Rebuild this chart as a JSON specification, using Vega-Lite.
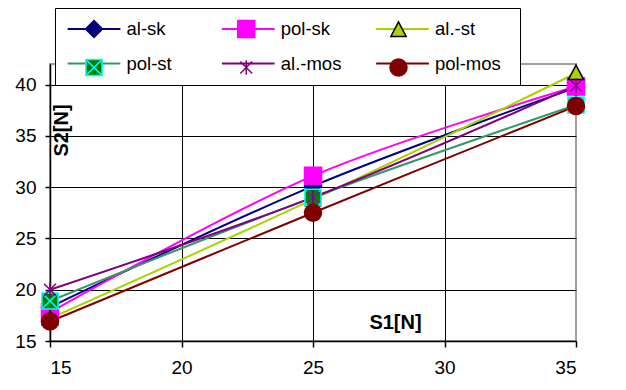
{
  "$schema": "https://vega.github.io/schema/vega-lite/v6.json",
  "width": 526,
  "height": 277,
  "autosize": {"type": "none"},
  "padding": {"left": 50, "top": 64, "right": 50, "bottom": 49},
  "background": "white",
  "config": {
    "view": {"stroke": "#a0a0a0", "strokeWidth": 2},
    "font": "Liberation Sans"
  },
  "data": {
    "values": [
      {"x": 15, "y": 18.3, "s": "al-sk", "m": "al-sk"},
      {"x": 25, "y": 30.1, "s": "al-sk", "m": "al-sk"},
      {"x": 35, "y": 39.7, "s": "al-sk", "m": "al-sk"},
      {"x": 15, "y": 17.8, "s": "pol-sk", "m": "pol-sk"},
      {"x": 25, "y": 31.1, "s": "pol-sk", "m": "pol-sk"},
      {"x": 35, "y": 39.8, "s": "pol-sk", "m": "pol-sk"},
      {"x": 15, "y": 17.2, "s": "al.-st", "m": "al.-st"},
      {"x": 25, "y": 28.8, "s": "al.-st", "m": "al.-st"},
      {"x": 35, "y": 41.1, "s": "al.-st", "m": "al.-st"},
      {"x": 15, "y": 18.9, "s": "pol-st", "m": "pol-st"},
      {"x": 25, "y": 29.0, "s": "pol-st", "m": "pol-st"},
      {"x": 35, "y": 38.0, "s": "pol-st", "m": "pol-st"},
      {"x": 15, "y": 20.0, "s": "al.-mos", "m": "al.-mos"},
      {"x": 25, "y": 29.0, "s": "al.-mos", "m": "al.-mos"},
      {"x": 35, "y": 39.9, "s": "al.-mos", "m": "al.-mos"},
      {"x": 15, "y": 16.9, "s": "pol-mos", "m": "pol-mos"},
      {"x": 25, "y": 27.5, "s": "pol-mos", "m": "pol-mos"},
      {"x": 35, "y": 37.9, "s": "pol-mos", "m": "pol-mos"}
    ]
  },
  "encoding": {
    "x": {
      "field": "x", "type": "quantitative",
      "scale": {"domain": [15, 35], "nice": false, "zero": false},
      "axis": {
        "values": [15, 20, 25, 30, 35],
        "grid": true,
        "gridColor": {"condition": {"test": "datum.value === 35", "value": "#a0a0a0"}, "value": "black"},
        "gridWidth": 1,
        "domainColor": "black", "domainWidth": 1.5,
        "tickColor": "black", "tickSize": 6, "tickWidth": 1.5,
        "labelFont": "Liberation Sans", "labelFontSize": 19, "labelColor": "black", "labelPadding": 11,
        "title": "S1[N]", "titleFont": "Liberation Sans", "titleFontSize": 20, "titleFontWeight": "bold", "titleColor": "black",
        "titleX": 345, "titleY": -19, "titleAlign": "center", "titleBaseline": "middle"
      }
    },
    "y": {
      "field": "y", "type": "quantitative",
      "scale": {"domain": [15, 42], "nice": false, "zero": false},
      "axis": {
        "values": [15, 20, 25, 30, 35, 40],
        "grid": true, "gridColor": "black", "gridWidth": 1,
        "domainColor": "black", "domainWidth": 1.5,
        "tickColor": "black", "tickSize": 5, "tickWidth": 1.5,
        "labelFont": "Liberation Sans", "labelFontSize": 19, "labelColor": "black", "labelPadding": 9,
        "title": "S2[N]", "titleFont": "Liberation Sans", "titleFontSize": 20, "titleFontWeight": "bold", "titleColor": "black",
        "titleX": 11, "titleY": 66, "titleAngle": 270, "titleAlign": "center", "titleBaseline": "middle"
      }
    }
  },
  "layer": [
    {
      "mark": {"type": "line", "strokeWidth": 2, "interpolate": "catmull-rom"},
      "encoding": {
        "color": {
          "field": "s", "type": "nominal",
          "sort": ["al-sk", "pol-sk", "al.-st", "pol-st", "al.-mos", "pol-mos"],
          "scale": {
            "range": ["#000080", "#FF00FF", "#A8D400", "#339966", "#800080", "#800000"]
          },
          "legend": {
            "orient": "none", "legendX": 5, "legendY": -56, "direction": "horizontal",
            "columns": 3, "gridAlign": "all", "columnPadding": 15.25, "rowPadding": 15.5,
            "padding": 11.5, "symbolSize": 289, "symbolOffset": 18, "labelOffset": 23,
            "symbolType": "M-3.45,0M11.9,0M-3.1,0H3.1", "symbolStrokeWidth": 2,
            "labelFont": "Liberation Sans", "labelFontSize": 18.5, "labelColor": "black",
            "title": null, "strokeColor": "black", "fillColor": "white"
          }
        }
      }
    },
    {
      "mark": {"type": "point", "filled": true, "size": 289, "opacity": 1, "strokeWidth": 1.5},
      "encoding": {
        "shape": {
          "field": "m", "type": "nominal",
          "scale": {
            "domain": ["al-sk", "pol-sk", "al.-st", "pol-st", "al.-mos", "pol-mos"],
            "range": [
              "M-3.45,0M11.9,0M0,-1L1,0L0,1L-1,0Z",
              "M-3.45,0M11.9,0M-1,-1H1V1H-1Z",
              "M-3.45,0M11.9,0M0,-0.95L0.9,0.75H-0.9Z",
              "M-3.45,0M11.9,0M-0.95,-0.95H0.95V0.95H-0.95ZM-0.8,-0.8L0.8,0.8M0.8,-0.8L-0.8,0.8",
              "M-3.45,0M11.9,0M0,-0.85V0.85M-0.7,-0.7L0.7,0.7M-0.7,0.7L0.7,-0.7",
              "M-3.45,0M11.9,0M-1,0A1,1 0 1,1 1,0A1,1 0 1,1 -1,0Z"
            ]
          },
          "legend": {
            "orient": "none", "legendX": 5, "legendY": -56, "direction": "horizontal",
            "columns": 3, "gridAlign": "all", "columnPadding": 15.25, "rowPadding": 15.5,
            "padding": 11.5, "symbolSize": 289, "symbolOffset": 18, "labelOffset": 23,
            "symbolStrokeWidth": 1.5,
            "labelFont": "Liberation Sans", "labelFontSize": 18.5, "labelColor": "black", "labelOpacity": 0,
            "title": null
          }
        },
        "fill": {
          "field": "m", "type": "nominal",
          "scale": {
            "domain": ["al-sk", "pol-sk", "al.-st", "pol-st", "al.-mos", "pol-mos"],
            "range": ["#000080", "#FF00FF", "#A8D400", "#008000", "#800080", "#800000"]
          },
          "legend": {
            "orient": "none", "legendX": 5, "legendY": -56, "direction": "horizontal",
            "columns": 3, "gridAlign": "all", "columnPadding": 15.25, "rowPadding": 15.5,
            "padding": 11.5, "symbolSize": 289, "symbolOffset": 18, "labelOffset": 23,
            "symbolStrokeWidth": 1.5,
            "labelFont": "Liberation Sans", "labelFontSize": 18.5, "labelColor": "black", "labelOpacity": 0,
            "title": null
          }
        },
        "stroke": {
          "field": "m", "type": "nominal",
          "scale": {
            "domain": ["al-sk", "pol-sk", "al.-st", "pol-st", "al.-mos", "pol-mos"],
            "range": ["#000080", "#FF00FF", "#000000", "#00FFFF", "#800080", "#800000"]
          },
          "legend": {
            "orient": "none", "legendX": 5, "legendY": -56, "direction": "horizontal",
            "columns": 3, "gridAlign": "all", "columnPadding": 15.25, "rowPadding": 15.5,
            "padding": 11.5, "symbolSize": 289, "symbolOffset": 18, "labelOffset": 23,
            "symbolStrokeWidth": 1.5,
            "labelFont": "Liberation Sans", "labelFontSize": 18.5, "labelColor": "black", "labelOpacity": 0,
            "title": null
          }
        }
      }
    }
  ]
}
